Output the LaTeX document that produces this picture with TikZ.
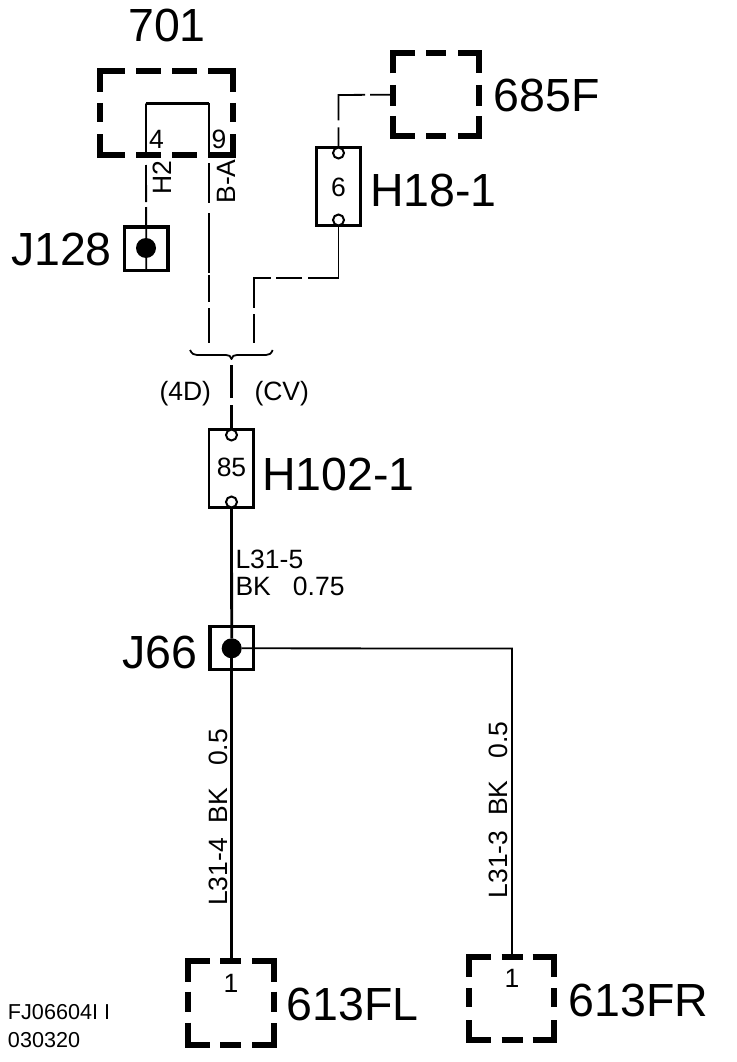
\documentclass[tikz,border=0pt]{standalone}
\usepackage{fontspec}
\setmainfont{Liberation Sans}
\usetikzlibrary{backgrounds}
\newcommand{\fsz}[1]{\fontsize{#1}{#1}\selectfont}
\tikzset{
  big/.style={inner sep=0pt,outer sep=0pt,font=\fsz{46.5}},
  mid/.style={inner sep=0pt,outer sep=0pt,font=\fsz{26.5}},
  small/.style={inner sep=0pt,outer sep=0pt,font=\fsz{21.6},anchor=base west},
  brk/.style={line width=6pt,line cap=butt,line join=miter},
  anchorbox/.style={draw=none,inner sep=0pt,outer sep=0pt,rectangle},
  conn/.style={draw,line width=2.6pt,rectangle,inner sep=0pt,outer sep=0pt,minimum width=44pt,minimum height=79pt},
  sq/.style={draw,line width=3.3pt,rectangle,inner sep=0pt,outer sep=0pt,minimum size=43.5pt},
  pin/.style={draw,fill=white,circle,line width=2pt,inner sep=0pt,outer sep=0pt,minimum size=11pt},
  dot/.style={fill=black,circle,inner sep=0pt,outer sep=0pt,minimum size=20pt},
  wire/.style={draw,line width=1.8pt},
  hvwire/.style={draw,line width=2.8pt},
}
\begin{document}
\begin{tikzpicture}[x=1pt,y=-1pt]
\useasboundingbox (0,0) rectangle (736,1062);
% broken boxes
\node[anchorbox,minimum width=133.5pt,minimum height=83.5pt] (b701) at (166.25,113) {};
\node[anchorbox,minimum width=85.7pt,minimum height=83.3pt] (b685) at (435.85,94.65) {};
\node[anchorbox,minimum width=85.7pt,minimum height=83.4pt] (bFL) at (230.85,1003) {};
\node[anchorbox,minimum width=85pt,minimum height=83pt] (bFR) at (511.5,998.5) {};
\draw[brk] (99.5,91.6) |- (124.7,71.5) (136,71.5) -- (160.6,71.5) (172,71.5) -- (196.5,71.5) (208,71.5) -| (233,91.6)
  (99.5,103) -- (99.5,121.7) (233,103) -- (233,121.7)
  (99.5,134) |- (124.7,154.5) (136,154.5) -- (160.6,154.5) (172,154.5) -- (196.5,154.5) (208,154.5) -| (233,134);
\draw[brk] (393,73.3) |- (415,53) (426,53) -- (445.7,53) (458.3,53) -| (478.7,73.3)
  (393,85) -- (393,106) (478.7,85) -- (478.7,106)
  (393,116) |- (415,136.3) (426,136.3) -- (445.7,136.3) (458.3,136.3) -| (478.7,116);
\draw[brk] (188,981.7) |- (210,961.3) (220,961.3) -- (240.7,961.3) (252.3,961.3) -| (273.7,981.7)
  (188,991.7) -- (188,1011.7) (273.7,991.7) -- (273.7,1011.7)
  (188,1022.7) |- (210,1044.7) (220,1044.7) -- (240.7,1044.7) (252.3,1044.7) -| (273.7,1022.7);
\draw[brk] (469,976.7) |- (490.7,957) (501.7,957) -- (522.7,957) (532.7,957) -| (554,976.7)
  (469,988) -- (469,1006.7) (554,988) -- (554,1006.7)
  (469,1020) |- (490.7,1040) (501.7,1040) -- (522.7,1040) (532.7,1040) -| (554,1020);
% connectors blocks
\node[conn,minimum width=44.5pt,minimum height=78.5pt] (h18) at (338.5,186.5) {};
\node[conn,minimum width=44.5pt,minimum height=78.5pt] (h102) at (231.4,468.5) {};
\node[pin] (h18t) at (338.5,153) {};
\node[pin] (h18b) at (338.5,220) {};
\node[pin] (h102t) at (231.5,435) {};
\node[pin] (h102b) at (231.5,502) {};
\node[sq] (j128) at (146.2,248.8) {};
\node[sq] (j66) at (231.7,648) {};
\node[dot] (j128d) at (146,248) {};
\node[dot] (j66d) at (231.7,648.3) {};
% free points
\coordinate (pinA) at (146,103.5);
\coordinate (pinB) at (209,103.5);
\coordinate (bendA) at (338.5,95);
\coordinate (bendC) at (338.5,278);
\coordinate (bendD) at (254,278);
\coordinate (endB) at (209,343);
\coordinate (endD) at (254,343);
\coordinate (busS) at (231.5,365);
\coordinate (tee) at (512,648.5);
\begin{pgfonlayer}{background}
\draw[line width=3pt] (pinA) -- (pinB);
\draw[wire,dash pattern=on 53.5pt off 8pt on 37pt off 5pt on 100pt] (pinA) -- (j128.south);
\draw[wire,dash pattern=on 53.5pt off 6pt on 40pt off 10pt on 60pt off 2pt on 27pt off 6pt on 35pt] (pinB) -- (endB);
\draw[wire,dash pattern=on 23pt off 5pt on 52pt off 7pt on 80pt] (b685.west) -- (bendA) -- (h18t);
\draw[wire,dash pattern=on 83pt off 6pt on 26.3pt off 5pt on 46.4pt off 6.3pt on 35pt] (h18b) -- (bendC) -- (bendD) -- (endD);
\draw[hvwire,dash pattern=on 33pt off 7pt on 60pt] (busS) -- (h102t);
\draw[hvwire] (h102b) -- (j66d);
\draw[hvwire] (j66d) -- (j66d |- bFL.north);
\draw[wire] (j66d) -- (tee) -- (tee |- bFR.north);
\end{pgfonlayer}
% brace
\draw[line width=1.8pt,line join=round] (190,350) .. controls (192,354) and (194,355) .. (197,355) -- (226,355) .. controls (229,355) and (231,356) .. (231.5,359) .. controls (232,356) and (234,355) .. (237,355) -- (266,355) .. controls (269,355) and (271,354) .. (272.7,350);
% labels
\node[big,anchor=base] (l701) at (167,42) {701};
\node[big,anchor=base west] (l685) at (493.5,112) {685F};
\node[big,anchor=base west] (l18) at (370,206.7) {H18-1};
\node[big,anchor=base west] (lj128) at (11,265) {J128};
\node[big,anchor=base west] (l102) at (262,490) {H102-1};
\node[big,anchor=base west] (lj66) at (122,668) {J66};
\node[big,anchor=base west] (lfl) at (286.5,1020) {613FL};
\node[big,anchor=base west] (lfr) at (568.5,1016) {613FR};
\node[mid,anchor=base] (p4) at (156.5,148) {4};
\node[mid,anchor=base] (p9) at (219,148) {9};
\node[mid,anchor=base] (p6) at (338.5,196) {6};
\node[mid,anchor=base] (p85) at (231.5,476.7) {85};
\node[mid,anchor=base] (p1l) at (231,992) {1};
\node[mid,anchor=base] (p1r) at (512,987) {1};
\node[mid,anchor=base,rotate=90] (lh2) at (171.7,178) {H2};
\node[mid,anchor=base,rotate=90] (lba) at (235.7,181.5) {B-A};
\node[mid,anchor=base west] (l4d) at (159.5,400) {(4D)};
\node[mid,anchor=base west] (lcv) at (254.5,400) {(CV)};
\node[mid,anchor=base west] (ll315) at (235.5,568) {L31-5};
\node[mid,anchor=base west] (lbk) at (235.5,595) {BK~~~0.75};
\node[mid,anchor=base,rotate=90] (ll314) at (227,817.5) {L31-4~~BK~~~0.5};
\node[mid,anchor=base,rotate=90] (ll313) at (507.3,810) {L31-3~~BK~~~0.5};
\node[small] (lfj) at (8,1019) {FJ06604I\hspace{6pt}I};
\node[small] (ldate) at (8,1047) {030320};
\end{tikzpicture}
\end{document}
